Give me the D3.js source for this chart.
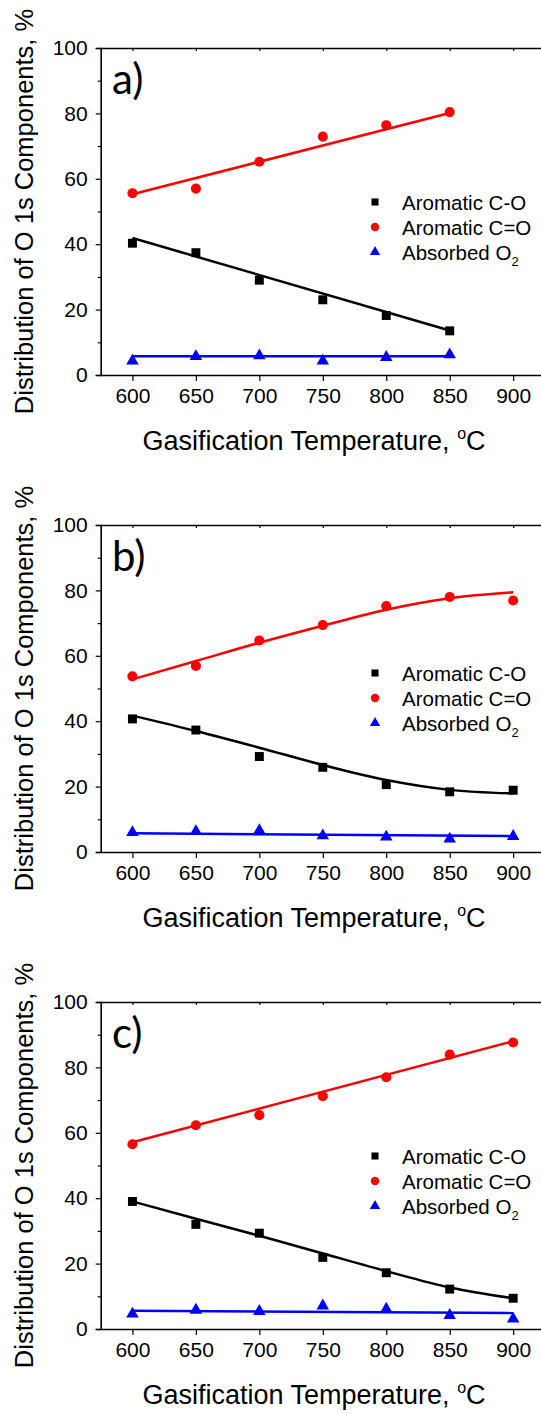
<!DOCTYPE html>
<html><head><meta charset="utf-8">
<script src="https://cdn.jsdelivr.net/npm/d3@7"></script>
<style>html,body{margin:0;padding:0;background:#fff;overflow:hidden}
svg text{font-family:'Liberation Sans', Arial, sans-serif}</style>
</head><body>
<script>
// ---- data ----
const temps = [600, 650, 700, 750, 800, 850, 900];
const panelLabels = ["a)", "b)", "c)"];
const seriesNames = ["Aromatic C-O", "Aromatic C=O", "Absorbed O"];
const xTicks = [600, 650, 700, 750, 800, 850, 900];
const yTicks = [0, 20, 40, 60, 80, 100];
const yMinorTicks = [10, 30, 50, 70, 90];

// panel a (no 900 point)
const aCO  = [40.3, 37.4, 29.0, 23.0, 18.2, 13.5];
const aCdO = [55.6, 57.0, 65.2, 72.9, 76.4, 80.4];
const aO2  = [4.3, 5.7, 5.9, 4.3, 5.4, 6.2];
const aFitX = [600, 850];
const aFitCO = [41.9, 13.6];
const aFitCdO = [55.3, 80.1];
const aFitO2 = [5.7, 5.7];

// panel b
const bCO  = [40.7, 37.3, 29.2, 25.9, 20.6, 18.4, 18.9];
const bCdO = [53.7, 56.9, 64.7, 69.4, 75.2, 78.0, 76.9];
const bO2  = [6.0, 6.3, 6.6, 5.0, 4.6, 4.0, 4.8];
const bFitX = [600, 650, 700, 750, 800, 850, 900];
const bFitCO = [41.7, 37.0, 31.9, 26.6, 22.0, 19.0, 17.9];
const bFitCdO = [52.8, 58.4, 64.0, 69.2, 74.1, 77.6, 79.4];
const bFitO2X = [600, 900];
const bFitO2 = [5.7, 4.9];

// panel c
const cCO  = [39.0, 32.0, 29.3, 21.9, 17.2, 12.2, 9.4];
const cCdO = [56.5, 62.3, 65.4, 71.2, 77.0, 83.9, 87.6];
const cO2  = [4.6, 5.8, 5.4, 7.1, 6.1, 4.2, 3.1];
const cFitX = [600, 650, 700, 750, 800, 850, 900];
const cFitCO = [39.0, 33.7, 28.5, 23.1, 17.7, 12.7, 9.4];
const cFitCdOX = [600, 900];
const cFitCdO = [57.1, 88.0];
const cFitO2X = [600, 900];
const cFitO2 = [5.6, 4.9];

const colors = ["#000000", "#ff0000", "#0000ff"];

const panels = [
  {label: panelLabels[0], top: 48, pts: [aCO, aCdO, aO2],
   fits: [[aFitX, aFitCO, false], [aFitX, aFitCdO, false], [aFitX, aFitO2, false]], legTop: 154},
  {label: panelLabels[1], top: 525, pts: [bCO, bCdO, bO2],
   fits: [[bFitX, bFitCO, true], [bFitX, bFitCdO, true], [bFitO2X, bFitO2, false]], legTop: 148},
  {label: panelLabels[2], top: 1002, pts: [cCO, cCdO, cO2],
   fits: [[cFitX, cFitCO, true], [cFitCdOX, cFitCdO, false], [cFitO2X, cFitO2, false]], legTop: 154}
];

// ---- drawing ----
const W = 541, H = 1414;
const svg = d3.select("body").append("svg").attr("width", W).attr("height", H);

const left = 100.7, right = 544.9, ph = 327;
const x = d3.scaleLinear().domain([575, 925]).range([left, right]);
const symbols = [d3.symbolSquare, d3.symbolCircle, d3.symbolTriangle];
const symSizes = [80, 80, 68];
const legSizes = [50, 56, 46];
const FF = "'Liberation Sans', Arial, sans-serif";

panels.forEach(p => {
  const y = d3.scaleLinear().domain([0, 100]).range([p.top + ph, p.top]);
  const g = svg.append("g");

  // fit lines
  p.fits.forEach((f, i) => {
    const d = f[0].map((t, k) => [t, f[1][k]]);
    g.append("path").datum(d)
      .attr("fill", "none").attr("stroke", colors[i]).attr("stroke-width", 2.5)
      .attr("d", d3.line().x(v => x(v[0])).y(v => y(v[1])).curve(f[2] ? d3.curveMonotoneX : d3.curveLinear));
  });

  // points
  p.pts.forEach((vals, i) => {
    g.selectAll(null).data(vals.map((v, k) => [temps[k], v])).enter()
      .append("path")
      .attr("d", d3.symbol().type(symbols[i]).size(symSizes[i]))
      .attr("transform", d => `translate(${x(d[0])},${y(d[1])})`)
      .attr("fill", colors[i]);
  });

  // axes
  const yAxis = d3.axisLeft(y).tickValues(yTicks).tickSize(5).tickPadding(8);
  const ya = g.append("g").attr("transform", `translate(${left},0)`).call(yAxis);
  const yMinor = d3.axisLeft(y).tickValues(yMinorTicks).tickSize(3).tickFormat("");
  const ym = g.append("g").attr("transform", `translate(${left},0)`).call(yMinor);
  ym.select(".domain").remove();

  const xAxis = d3.axisBottom(x).tickValues(xTicks).tickSize(6).tickPadding(7);
  const xa = g.append("g").attr("transform", `translate(0,${p.top + ph})`).call(xAxis);
  const xTop = d3.axisBottom(x).tickValues(xTicks).tickSize(3).tickFormat("");
  const xt = g.append("g").attr("transform", `translate(0,${p.top})`).call(xTop);

  [ya, ym, xa, xt].forEach(a => {
    a.attr("font-family", FF);
    a.selectAll(".domain").attr("stroke", "#000").attr("stroke-width", 1.6);
    a.selectAll(".tick line").attr("stroke", "#000").attr("stroke-width", 1.2);
    a.selectAll("text").attr("font-size", 21).attr("fill", "#000");
  });
  xa.selectAll(".domain").attr("d", `M${left},0.5H${right}`);
  xt.selectAll(".domain").attr("d", `M${left},0.5H${right}`);

  // panel label
  g.append("text").attr("x", 112).attr("y", p.top + 46)
    .style("font-family", "Lato, 'Open Sans', sans-serif").attr("font-size", 42)
    .text(p.label);

  // legend
  seriesNames.forEach((n, i) => {
    const ly = p.top + p.legTop + i * 25;
    g.append("path").attr("d", d3.symbol().type(symbols[i]).size(legSizes[i]))
      .attr("transform", `translate(375,${ly})`).attr("fill", colors[i]);
    const t = g.append("text").attr("x", 402).attr("y", ly + 7.5).attr("font-size", 20.5).text(n);
    if (i === 2) t.append("tspan").attr("font-size", 13).attr("dy", 6).text("2");
  });

  // axis titles
  const xt2 = g.append("text").attr("x", 314).attr("y", p.top + ph + 75)
    .attr("text-anchor", "middle").attr("font-size", 27).text("Gasification Temperature, ");
  xt2.append("tspan").attr("font-size", 16).attr("dy", -11).text("o");
  xt2.append("tspan").attr("dy", 11).text("C");

  g.append("text")
    .attr("transform", `translate(33,${p.top + ph / 2}) rotate(-90)`)
    .attr("text-anchor", "middle").attr("font-size", 25.5)
    .text("Distribution of O 1s Components, %");
});
</script>
</body></html>
